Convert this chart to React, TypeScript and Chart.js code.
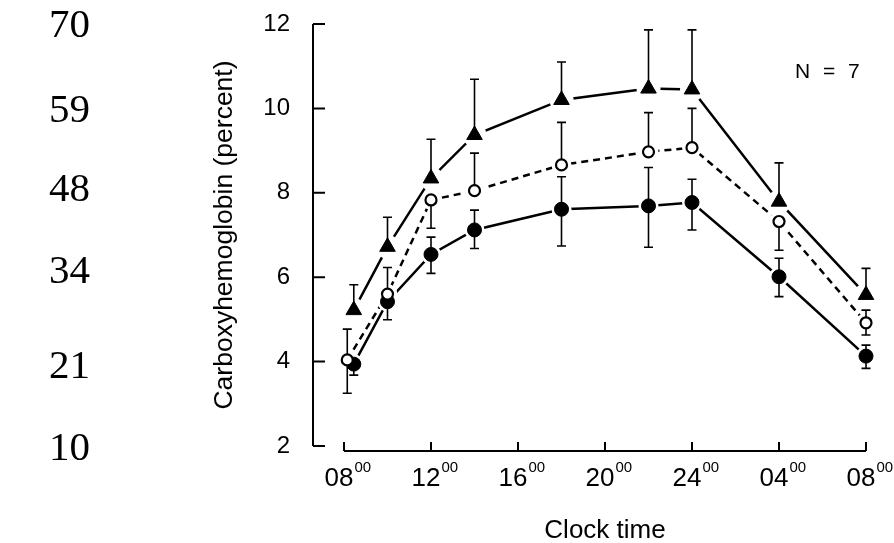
import React, { useEffect, useRef } from "react";
import { Chart, registerables } from "chart.js";

Chart.register(...registerables);

// ---------------- data ----------------
// hours after 08:00 (0 = 08:00, 24 = 08:00 next day)
const hoursTriangle = [0.45, 2, 4, 6, 10, 14, 16, 20, 24];
const hoursOpen = [0.15, 2, 4, 6, 10, 14, 16, 20, 24];
const hoursClosed = [0.45, 2, 4, 6, 10, 14, 16, 20, 24];

const triangleMean = [5.22, 6.72, 8.34, 9.37, 10.2, 10.47, 10.45, 7.79, 5.58];
const triangleUpper = [5.82, 7.42, 9.27, 10.69, 11.1, 11.86, 11.86, 8.71, 6.21];
const triangleLower = [null, null, null, null, null, null, null, null, null];

const openMean = [4.04, 5.6, 7.83, 8.05, 8.66, 8.97, 9.07, 7.32, 4.92];
const openUpper = [4.77, 6.23, null, 8.94, 9.67, 9.9, 10.0, null, 5.22];
const openLower = [3.25, null, 7.16, null, null, null, null, 6.64, 4.63];

const closedMean = [3.94, 5.42, 6.54, 7.12, 7.61, 7.69, 7.77, 6.01, 4.13];
const closedUpper = [null, null, 6.95, 7.59, 8.38, 8.6, 8.32, 6.45, 4.39];
const closedLower = [3.68, 4.99, 6.09, 6.68, 6.74, 6.71, 7.12, 5.54, 3.84];

const xTickLabels = ["08", "12", "16", "20", "24", "04", "08"];
const xTickSuperscript = "00";
const yAxisTitle = "Carboxyhemoglobin (percent)";
const xAxisTitle = "Clock time";
const annotationText = "N = 7";
const sideNumbers = ["70", "59", "48", "34", "21", "10"];

// ---------------- layout / style ----------------
const W = 894;
const H = 543;
const SIDE_NUMBER_X = 49;
const SIDE_NUMBER_Y = [26, 111, 190, 272, 367, 449];
const SANS = '"Liberation Sans", Arial, sans-serif';
const SERIF = '"Liberation Serif", "Times New Roman", serif';
const X_TICK_FONT_SIZE = 26;
const X_LABEL_OFFSET = -5;

const SERIES = [
  { x: hoursTriangle, mean: triangleMean, upper: triangleUpper, lower: triangleLower, style: "triangle" },
  { x: hoursOpen, mean: openMean, upper: openUpper, lower: openLower, style: "open" },
  { x: hoursClosed, mean: closedMean, upper: closedUpper, lower: closedLower, style: "closed" },
];

function pts(xs: number[], ys: number[]) {
  return xs.map((h, i) => ({ x: h, y: ys[i] }));
}

function drawErrorBars(chart: any) {
  const ctx = chart.ctx;
  const xs = chart.scales.x;
  const ys = chart.scales.y;
  ctx.save();
  ctx.strokeStyle = "#000";
  ctx.lineWidth = 1.6;
  for (const s of SERIES) {
    for (let i = 0; i < s.x.length; i++) {
      const px = xs.getPixelForValue(s.x[i]);
      const pm = ys.getPixelForValue(s.mean[i]);
      for (const end of [s.upper[i], s.lower[i]]) {
        if (end == null) continue;
        const pe = ys.getPixelForValue(end);
        ctx.beginPath();
        ctx.moveTo(px, pm);
        ctx.lineTo(px, pe);
        ctx.moveTo(px - 4.5, pe);
        ctx.lineTo(px + 4.5, pe);
        ctx.stroke();
      }
    }
  }
  ctx.restore();
}

const decorPlugin = {
  id: "decor",
  beforeDatasetDraw(chart: any, args: any) {
    if (args.index === 8) drawErrorBars(chart);
  },
  afterDraw(chart: any) {
    const ctx = chart.ctx;
    const xs = chart.scales.x;
    const ys = chart.scales.y;
    const { left, bottom } = chart.chartArea;
    const yAxisX = left - 31;
    const xAxisY = bottom + 5;
    ctx.save();
    ctx.strokeStyle = "#000";
    ctx.lineWidth = 2;
    ctx.beginPath();
    // y axis
    ctx.moveTo(yAxisX, ys.getPixelForValue(ys.max));
    ctx.lineTo(yAxisX, ys.getPixelForValue(ys.min));
    for (const t of ys.ticks) {
      const py = ys.getPixelForValue(t.value);
      ctx.moveTo(yAxisX, py);
      ctx.lineTo(yAxisX + 12, py);
    }
    // x axis
    ctx.moveTo(xs.getPixelForValue(xs.min), xAxisY);
    ctx.lineTo(xs.getPixelForValue(xs.max), xAxisY);
    for (const t of xs.ticks) {
      const px = xs.getPixelForValue(t.value);
      ctx.moveTo(px, xAxisY);
      ctx.lineTo(px, xAxisY - 9);
    }
    ctx.stroke();

    // superscripts on x tick labels
    ctx.fillStyle = "#000";
    xs.ticks.forEach((t: any, i: number) => {
      const label = xTickLabels[i];
      if (!label) return;
      ctx.font = `${X_TICK_FONT_SIZE}px ${SANS}`;
      const w = ctx.measureText(label).width;
      const px = xs.getPixelForValue(t.value) + X_LABEL_OFFSET;
      ctx.font = `15px ${SANS}`;
      ctx.textAlign = "left";
      ctx.textBaseline = "top";
      ctx.fillText(xTickSuperscript, px + w / 2 + 1, 460);
    });

    // N = 7
    ctx.font = `21px ${SANS}`;
    (ctx as any).letterSpacing = "3.5px";
    ctx.textAlign = "left";
    ctx.textBaseline = "middle";
    ctx.fillText(annotationText, 795, 72);
    (ctx as any).letterSpacing = "0px";

    // side numbers
    ctx.font = `41px ${SERIF}`;
    ctx.textAlign = "left";
    ctx.textBaseline = "middle";
    sideNumbers.forEach((n, i) => ctx.fillText(n, SIDE_NUMBER_X, SIDE_NUMBER_Y[i]));
    ctx.restore();
  },
};

function zeroPadding(s: any) {
  s.paddingTop = 0;
  s.paddingBottom = 0;
  s.paddingLeft = 0;
  s.paddingRight = 0;
}

export default function App() {
  const ref = useRef<HTMLCanvasElement | null>(null);
  useEffect(() => {
    if (!ref.current) return;
    const lineDs = SERIES.map((s) => ({
      data: pts(s.x, s.mean),
      showLine: true,
      borderColor: "#000",
      borderWidth: 2.5,
      borderDash: s.style === "open" ? [7, 5] : [],
      pointRadius: 0,
      fill: false,
      tension: 0,
      clip: false,
      order: 3,
    }));
    const haloDs = SERIES.map((s) => ({
      data: pts(s.x, s.mean),
      showLine: false,
      pointStyle: "circle",
      pointRadius: s.style === "triangle" ? 12 : 10,
      pointBackgroundColor: "#fff",
      pointBorderColor: "#fff",
      pointBorderWidth: 0,
      clip: false,
      order: 2,
    }));
    const markerDs = SERIES.map((s) => ({
      data: pts(s.x, s.mean),
      showLine: false,
      pointStyle: s.style === "triangle" ? "triangle" : "circle",
      pointRadius: s.style === "triangle" ? 9 : s.style === "open" ? 5.5 : 7,
      pointBackgroundColor: s.style === "open" ? "#fff" : "#000",
      pointBorderColor: "#000",
      pointBorderWidth: s.style === "open" ? 2.2 : 1,
      clip: false,
      order: 1,
    }));
    const chart = new Chart(ref.current, {
      type: "line",
      data: { datasets: [...lineDs, ...haloDs, ...markerDs] as any },
      options: {
        responsive: false,
        animation: false,
        devicePixelRatio: 1,
        events: [],
        layout: { padding: { left: 0, right: 28, top: 24, bottom: 0 } },
        plugins: { legend: { display: false }, tooltip: { enabled: false } },
        scales: {
          x: {
            type: "linear",
            min: 0,
            max: 24,
            grid: { display: false, drawTicks: false },
            border: { display: false },
            afterFit: (s: any) => {
              s.height = 97;
              zeroPadding(s);
            },
            ticks: {
              stepSize: 4,
              autoSkip: false,
              maxRotation: 0,
              minRotation: 0,
              padding: 17,
              labelOffset: X_LABEL_OFFSET,
              color: "#000",
              font: { family: SANS, size: X_TICK_FONT_SIZE },
              callback: (v: any) => xTickLabels[Math.round(Number(v) / 4)] ?? "",
            },
            title: {
              display: true,
              text: xAxisTitle,
              color: "#000",
              font: { family: SANS, size: 26, lineHeight: 0.95 },
              padding: { top: 0, bottom: 0 },
            },
          },
          y: {
            type: "linear",
            min: 2,
            max: 12,
            grid: { display: false, drawTicks: false },
            border: { display: false },
            afterFit: (s: any) => {
              s.width = 344;
              zeroPadding(s);
            },
            ticks: {
              stepSize: 2,
              padding: 54,
              color: "#000",
              font: { family: SANS, size: 24 },
            },
            title: {
              display: true,
              text: yAxisTitle,
              color: "#000",
              font: { family: SANS, size: 26.5 },
              padding: { top: 209, bottom: 0 },
            },
          },
        },
      } as any,
      plugins: [decorPlugin],
    });
    return () => chart.destroy();
  }, []);
  return (
    <div style={{ position: "absolute", left: 0, top: 0, width: W, height: H, background: "#fff" }}>
      <canvas ref={ref} width={W} height={H} style={{ display: "block", width: W, height: H }} />
    </div>
  );
}
